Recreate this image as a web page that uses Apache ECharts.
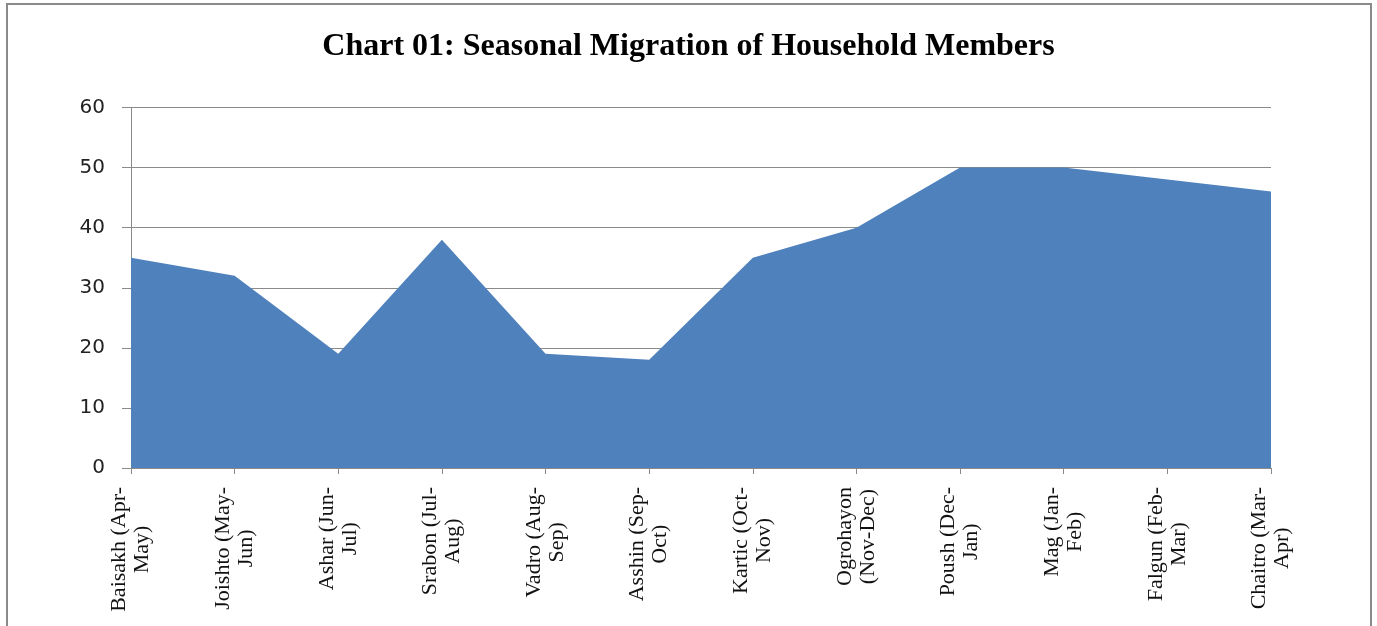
<!DOCTYPE html>
<html>
<head>
<meta charset="utf-8">
<script src="https://cdn.jsdelivr.net/npm/echarts@6/dist/echarts.min.js"></script>
<style>
    html, body {margin: 0; padding: 0; background: #fff;}
    #chart {width: 1377px; height: 626px;}
</style>
</head>
<body>
<div id="chart"></div>
<script>
// months (bangla calendar), two lines each as in the original sheet
var months = [
    'Baisakh (Apr-\nMay)', 'Joishto (May-\nJun)', 'Ashar (Jun-\nJul)', 'Srabon (Jul-\nAug)',
    'Vadro (Aug-\nSep)', 'Asshin (Sep-\nOct)', 'Kartic (Oct-\nNov)', 'Ogrohayon\n(Nov-Dec)',
    'Poush (Dec-\nJan)', 'Mag (Jan-\nFeb)', 'Falgun (Feb-\nMar)', 'Chaitro (Mar-\nApr)'
];
var members = [35, 32, 19, 38, 19, 18, 35, 40, 50, 50, 48, 46];
var yTicks = {min: 0, max: 60, interval: 10};

var chart = echarts.init(document.getElementById('chart'));

var option = {
    animation: false,
    title: {
        text: 'Chart 01: Seasonal Migration of Household Members',
        left: 'center',
        top: 26,
        textStyle: {
            fontFamily: 'Liberation Serif',
            fontWeight: 'bold',
            fontSize: 32,
            color: '#000'
        }
    },
    grid: {
        left: 131,
        right: 106,
        top: 107.5,
        bottom: 158,
        containLabel: false
    },
    // frame round the chart like the excel chart area
    graphic: [{
        type: 'rect',
        shape: {x: 7, y: 4, width: 1364, height: 700},
        style: {fill: 'none', stroke: '#8a8a8a', lineWidth: 2},
        silent: true
    }],
    xAxis: {
        type: 'category',
        data: months,
        boundaryGap: false,
        axisLine: {lineStyle: {color: '#8a8a8a', width: 1}},
        axisTick: {show: true, length: 6, inside: false, lineStyle: {color: '#8a8a8a'}},
        axisLabel: {
            interval: 0,
            rotate: 90,
            margin: 19,
            formatter: function (v) {
                // centre each line inside the label block
                return v.split('\n').map(function (s) { return '{c|' + s + '}'; }).join('\n');
            },
            rich: {
                c: {
                    align: 'center',
                    fontFamily: 'Liberation Serif',
                    fontSize: 22,
                    lineHeight: 23,
                    color: '#111'
                }
            }
        },
        splitLine: {show: false}
    },
    yAxis: {
        type: 'value',
        min: yTicks.min,
        max: yTicks.max,
        interval: yTicks.interval,
        axisLine: {show: true, lineStyle: {color: '#8a8a8a', width: 1}},
        axisTick: {show: true, length: 9, inside: false, lineStyle: {color: '#8a8a8a'}},
        axisLabel: {
            margin: 26,
            fontFamily: 'DejaVu Sans',
            fontSize: 20,
            color: '#222'
        },
        splitLine: {show: true, lineStyle: {color: '#8a8a8a', width: 1}}
    },
    series: [{
        name: 'Members',
        type: 'line',
        data: members,
        showSymbol: false,
        lineStyle: {width: 0},
        areaStyle: {color: '#4f81bd', opacity: 1},
        z: 3
    }]
};

chart.setOption(option);
</script>
</body>
</html>
